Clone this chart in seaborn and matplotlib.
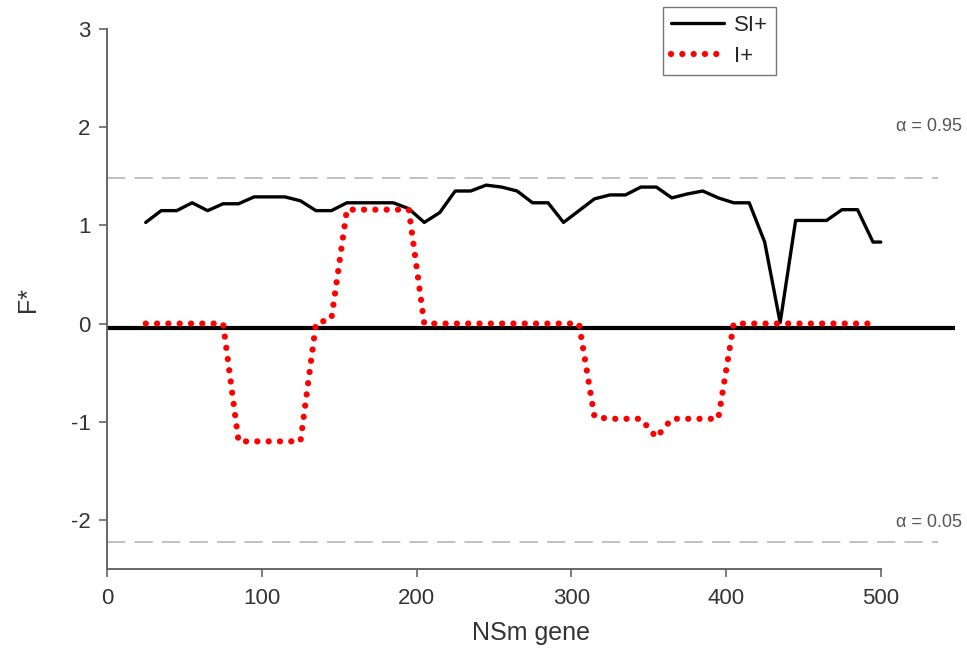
import matplotlib
matplotlib.use("Agg")
import matplotlib.pyplot as plt
import seaborn as sns

# sliding-window positions along the NSm gene
SI_X = [25, 35, 45, 55, 65, 75, 85, 95, 105, 115, 125, 135, 145, 155, 165, 175,
        185, 195, 205, 215, 225, 235, 245, 255, 265, 275, 285, 295, 305, 315, 325,
        335, 345, 355, 365, 375, 385, 395, 405, 415, 425, 435, 445, 455, 465, 475,
        485, 495, 500]
SI_Y = [1.03, 1.15, 1.15, 1.23, 1.15, 1.22, 1.22, 1.29, 1.29, 1.29, 1.25, 1.15,
        1.15, 1.23, 1.23, 1.23, 1.23, 1.17, 1.03, 1.13, 1.35, 1.35, 1.41, 1.39,
        1.35, 1.23, 1.23, 1.03, 1.15, 1.27, 1.31, 1.31, 1.39, 1.39, 1.28, 1.32,
        1.35, 1.28, 1.23, 1.23, 0.83, 0.01, 1.05, 1.05, 1.05, 1.16, 1.16, 0.83,
        0.83]

I_X = [25, 35, 45, 55, 65, 75, 85, 95, 105, 115, 125, 135, 145, 155, 165, 175,
       185, 195, 205, 215, 225, 235, 245, 255, 265, 275, 285, 295, 305, 315, 325,
       335, 345, 355, 365, 375, 385, 395, 405, 415, 425, 435, 445, 455, 465, 475,
       485, 495]
I_Y = [0, 0, 0, 0, 0, 0, -1.2, -1.2, -1.2, -1.2, -1.2, 0, 0.05, 1.16, 1.16, 1.16,
       1.16, 1.16, 0, 0, 0, 0, 0, 0, 0, 0, 0, 0, 0, -0.95, -0.97, -0.97, -0.97,
       -1.16, -0.97, -0.97, -0.97, -0.97, 0, 0, 0, 0, 0, 0, 0, 0, 0, 0]

BASELINE = -0.05
UPPER = 1.485   # alpha = 0.95
LOWER = -2.22   # alpha = 0.05

sns.set_style("ticks")
plt.rcParams["font.family"] = ["Liberation Sans", "DejaVu Sans"]
plt.rcParams["axes.unicode_minus"] = False

fig = plt.figure(figsize=(9.67, 6.53), dpi=100)
ax = fig.add_axes([0.1107, 0.1286, 0.8769, 0.827])

ax.axhline(BASELINE, color="black", lw=3.0, zorder=2)
ax.hlines([UPPER, LOWER], 0, 537, colors="#b0b0b0", lw=1.1,
          linestyles=(0, (12, 6)), zorder=1)

sns.lineplot(x=SI_X, y=SI_Y, ax=ax, color="black", lw=2.4, label="SI+",
             zorder=3)
sns.lineplot(x=I_X, y=I_Y, ax=ax, color="#ff0000", lw=4.5, label="I+",
             linestyle=(0, (0.01, 1.8)), dash_capstyle="round", zorder=4)

ax.text(510, 2.01, "\u03b1 = 0.95", fontsize=13, color="#555555", va="center")
ax.text(510, -2.03, "\u03b1 = 0.05", fontsize=13, color="#555555", va="center")

ax.set_xlim(0, 548)
ax.set_ylim(-2.5, 3)
ax.set_xticks([0, 100, 200, 300, 400, 500])
ax.set_yticks([-2, -1, 0, 1, 2, 3])
ax.spines["bottom"].set_bounds(0, 500)
sns.despine(ax=ax)
for s in ("left", "bottom"):
    ax.spines[s].set_color("#666666")
    ax.spines[s].set_linewidth(1.4)
ax.tick_params(axis="both", colors="#666666", labelcolor="#333333",
               length=6, width=1.2, labelsize=16)
ax.tick_params(axis="x", pad=8)
ax.tick_params(axis="y", pad=6)

ax.set_xlabel("NSm gene", fontsize=18, color="#333333", labelpad=8)
ax.set_ylabel("F*", fontsize=18, color="#333333", labelpad=22)

handles, labels = ax.get_legend_handles_labels()
leg = ax.legend(handles, labels, loc="upper left",
                bbox_to_anchor=(663 / 967, 1 - 7 / 653),
                bbox_transform=fig.transFigure, fontsize=16, frameon=True,
                fancybox=False, edgecolor="#555555", handlelength=2.4,
                borderpad=0.35, labelspacing=0.45, handletextpad=0.45,
                borderaxespad=0)
leg.get_frame().set_linewidth(1.0)

fig.savefig("out.png", dpi=100)
